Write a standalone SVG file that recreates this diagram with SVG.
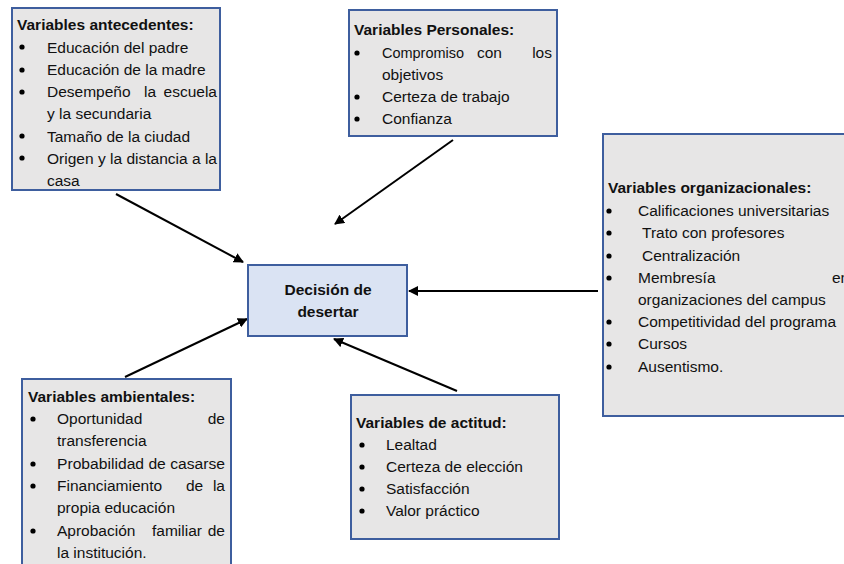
<svg xmlns="http://www.w3.org/2000/svg" width="844" height="564" viewBox="0 0 844 564">
<defs>
<style>
.box{fill:#E7E6E6;stroke:#3E5E9E;stroke-width:2}
.ctr{fill:#DAE3F3;stroke:#3E5E9E;stroke-width:2}
text{font-family:"Liberation Sans",Arial,sans-serif;font-size:15.5px;fill:#111}
.b{font-weight:bold}
.e{text-anchor:end}
.m{text-anchor:middle}
.dot{fill:#000}
.con{stroke:#000;stroke-width:2;fill:none;marker-end:url(#ah)}
</style>
<marker id="ah" markerWidth="10" markerHeight="10" refX="9" refY="5" orient="auto" markerUnits="userSpaceOnUse"><path d="M0,0 L10,5 L0,10 z" fill="#000"/></marker>
</defs>
<rect width="844" height="564" fill="#fff"/>

<g id="connectors">
<line class="con" x1="116" y1="194" x2="243" y2="262"/>
<line class="con" x1="453" y1="140" x2="335" y2="224"/>
<line class="con" x1="598" y1="291" x2="409" y2="291"/>
<line class="con" x1="457" y1="391" x2="334" y2="339"/>
<line class="con" x1="125" y1="377" x2="247" y2="319"/>
</g>

<g id="antecedentes">
<rect class="box" x="12" y="8" width="208" height="182"/>
<text class="b" x="17" y="30">Variables antecedentes:</text>
<circle class="dot" cx="22" cy="47" r="2.6"/><text x="47" y="52.5">Educación del padre</text>
<circle class="dot" cx="22" cy="70" r="2.6"/><text x="47" y="75">Educación de la madre</text>
<circle class="dot" cx="22" cy="92" r="2.6"/><text x="47" y="97">Desempeño</text><text x="144" y="97">la</text><text class="e" x="217" y="97">escuela</text>
<text x="47" y="119">y la secundaria</text>
<circle class="dot" cx="22" cy="136" r="2.6"/><text x="47" y="141.5">Tamaño de la ciudad</text>
<circle class="dot" cx="22" cy="158" r="2.6"/><text x="47" y="163.5" textLength="170" lengthAdjust="spacingAndGlyphs">Origen y la distancia a la</text>
<text x="47" y="185.5">casa</text>
</g>

<g id="personales">
<rect class="box" x="349" y="10" width="208" height="126"/>
<text class="b" x="354" y="35">Variables Personales:</text>
<circle class="dot" cx="357" cy="53" r="2.6"/><text x="382" y="58" textLength="82" lengthAdjust="spacingAndGlyphs">Compromiso</text><text x="477" y="58">con</text><text class="e" x="552" y="58">los</text>
<text x="382" y="80">objetivos</text>
<circle class="dot" cx="357" cy="97" r="2.6"/><text x="382" y="102">Certeza de trabajo</text>
<circle class="dot" cx="357" cy="119" r="2.6"/><text x="382" y="124">Confianza</text>
</g>

<g id="organizacionales">
<rect class="box" x="603" y="134" width="250" height="282"/>
<text class="b" x="608" y="193">Variables organizacionales:</text>
<circle class="dot" cx="609" cy="211" r="2.6"/><text x="638" y="216">Calificaciones universitarias</text>
<circle class="dot" cx="609" cy="233" r="2.6"/><text x="642" y="238">Trato con profesores</text>
<circle class="dot" cx="609" cy="256" r="2.6"/><text x="642" y="261">Centralización</text>
<circle class="dot" cx="609" cy="278" r="2.6"/><text x="638" y="283">Membresía</text><text x="832" y="283">en</text>
<text x="638" y="305">organizaciones del campus</text>
<circle class="dot" cx="609" cy="322" r="2.6"/><text x="638" y="327">Competitividad del programa</text>
<circle class="dot" cx="609" cy="344" r="2.6"/><text x="638" y="349">Cursos</text>
<circle class="dot" cx="609" cy="367" r="2.6"/><text x="638" y="372">Ausentismo.</text>
</g>

<g id="decision">
<rect class="ctr" x="248" y="265" width="159" height="71"/>
<text class="b m" x="328" y="295">Decisión de</text>
<text class="b m" x="328" y="317">desertar</text>
</g>

<g id="ambientales">
<rect class="box" x="22" y="379" width="209" height="195"/>
<text class="b" x="28" y="402">Variables ambientales:</text>
<circle class="dot" cx="33" cy="419" r="2.6"/><text x="57" y="424">Oportunidad</text><text class="e" x="225" y="424">de</text>
<text x="57" y="446">transferencia</text>
<circle class="dot" cx="33" cy="464" r="2.6"/><text x="57" y="469" textLength="168" lengthAdjust="spacingAndGlyphs">Probabilidad de casarse</text>
<circle class="dot" cx="33" cy="486" r="2.6"/><text x="57" y="491">Financiamiento</text><text x="186" y="491">de</text><text class="e" x="225" y="491">la</text>
<text x="57" y="513">propia educación</text>
<circle class="dot" cx="33" cy="531" r="2.6"/><text x="57" y="536">Aprobación</text><text x="152" y="536">familiar</text><text class="e" x="225" y="536">de</text>
<text x="57" y="558">la institución.</text>
</g>

<g id="actitud">
<rect class="box" x="351" y="395" width="208" height="144"/>
<text class="b" x="356" y="428">Variables de actitud:</text>
<circle class="dot" cx="362" cy="445" r="2.6"/><text x="386" y="450">Lealtad</text>
<circle class="dot" cx="362" cy="467" r="2.6"/><text x="386" y="472">Certeza de elección</text>
<circle class="dot" cx="362" cy="489" r="2.6"/><text x="386" y="494">Satisfacción</text>
<circle class="dot" cx="362" cy="511" r="2.6"/><text x="386" y="516">Valor práctico</text>
</g>
</svg>
